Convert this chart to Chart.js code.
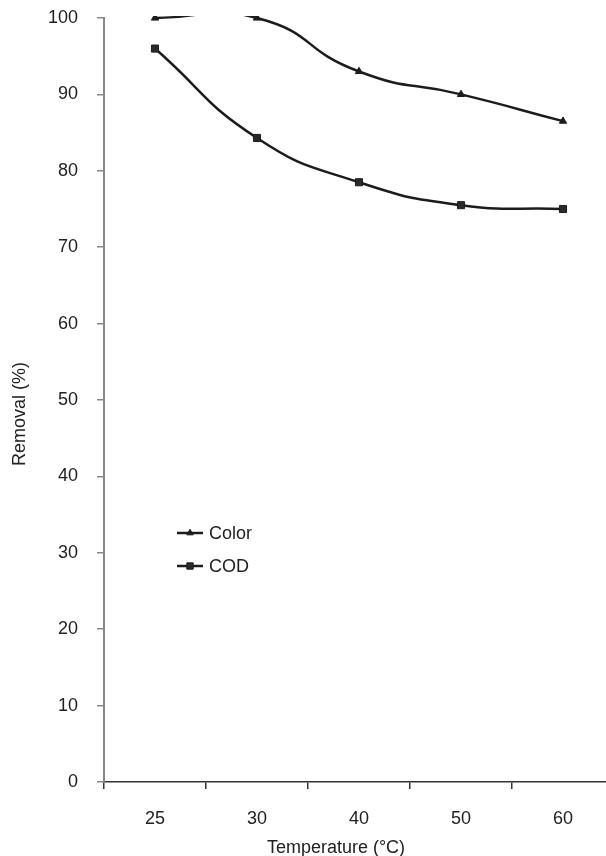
<!DOCTYPE html>
<html>
<head>
<meta charset="utf-8">
<script src="https://cdn.jsdelivr.net/npm/chart.js@4/dist/chart.umd.min.js"></script>
<style>
  html, body { margin: 0; padding: 0; background: #fff; overflow: hidden; }
  #wrap { width: 606px; height: 856px; overflow: hidden; }
  canvas { display: block; }
</style>
</head>
<body>
<div id="wrap"><canvas id="removalChart" width="620" height="856"></canvas></div>
<script>
const temperatures = ["25", "30", "40", "50", "60"];
const colorRemoval = [100, 100, 93, 90, 86.5];
const codRemoval = [96, 84.3, 78.5, 75.5, 75];
const yTicks = [0, 10, 20, 30, 40, 50, 60, 70, 80, 90, 100];

const FONT = "'Liberation Sans', Arial, Helvetica, sans-serif";
const INK = "#222";

// legend box and axis titles drawn straight onto the canvas
const extras = {
    id: "extras",
    afterDraw(chart) {
        const ctx = chart.ctx;
        const area = chart.chartArea;
        ctx.save();
        ctx.fillStyle = INK;
        ctx.font = "18px " + FONT;

        chart.data.datasets.forEach((ds, i) => {
            const y = area.top + 515 + i * 33;
            const x0 = area.left + 73;
            ctx.strokeStyle = ds.borderColor;
            ctx.lineWidth = ds.borderWidth;
            ctx.beginPath();
            ctx.moveTo(x0, y);
            ctx.lineTo(x0 + 26, y);
            ctx.stroke();
            ctx.fillStyle = ds.pointBackgroundColor;
            ctx.strokeStyle = ds.pointBorderColor;
            ctx.lineWidth = 1;
            Chart.helpers.drawPoint(ctx, {
                pointStyle: ds.pointStyle,
                radius: ds.pointRadius - 0.5,
                borderWidth: 1,
                rotation: 0
            }, x0 + 13, y);
            ctx.fillStyle = INK;
            ctx.textAlign = "left";
            ctx.textBaseline = "middle";
            ctx.fillText(ds.label, x0 + 32, y + 1);
        });

        ctx.textAlign = "center";
        ctx.textBaseline = "alphabetic";
        ctx.fillText("Temperature (°C)", 336, 853);

        ctx.translate(25, 414);
        ctx.rotate(-Math.PI / 2);
        ctx.fillText("Removal (%)", 0, 0);
        ctx.restore();
    }
};

new Chart(document.getElementById("removalChart"), {
    type: "line",
    data: {
        labels: temperatures,
        datasets: [{
            label: "Color",
            data: colorRemoval,
            borderColor: "#1c1c1c",
            borderWidth: 2.5,
            tension: 0.55,
            pointStyle: "triangle",
            pointRadius: 4.2,
            pointBackgroundColor: "#1c1c1c",
            pointBorderColor: "#1c1c1c",
            pointBorderWidth: 1,
            clip: { left: 10, right: 10, top: 2, bottom: 10 }
        }, {
            label: "COD",
            data: codRemoval,
            borderColor: "#1c1c1c",
            borderWidth: 2.5,
            tension: 0.5,
            pointStyle: "rect",
            pointRadius: 5,
            pointBackgroundColor: "#2a2a2a",
            pointBorderColor: "#1c1c1c",
            pointBorderWidth: 1,
            clip: { left: 10, right: 10, top: 2, bottom: 10 }
        }]
    },
    options: {
        responsive: false,
        animation: false,
        devicePixelRatio: 1,
        elements: { line: { capBezierPoints: false } },
        layout: { padding: { top: 18, right: 6, bottom: 0, left: 0 } },
        plugins: {
            legend: { display: false },
            tooltip: { enabled: false }
        },
        scales: {
            x: {
                type: "category",
                offset: true,
                grid: {
                    offset: true,
                    drawOnChartArea: false,
                    tickLength: 7,
                    color: "#333",
                    lineWidth: 1.5
                },
                border: { color: "#333", width: 1.5 },
                ticks: {
                    padding: 19,
                    color: INK,
                    font: { family: FONT, size: 18 }
                },
                afterFit(scale) { scale.height = 74; }
            },
            y: {
                min: 0,
                max: 100,
                afterBuildTicks(scale) {
                    scale.ticks = yTicks.map(v => ({ value: v }));
                },
                grid: {
                    drawOnChartArea: false,
                    tickLength: 7,
                    color: "#888",
                    lineWidth: 1.5
                },
                border: { color: "#888", width: 2 },
                ticks: {
                    padding: 19,
                    color: INK,
                    font: { family: FONT, size: 18 }
                },
                afterFit(scale) {
                    scale.width = 104;
                    scale.paddingTop = 0;
                    scale.paddingBottom = 0;
                }
            }
        }
    },
    plugins: [extras]
});
</script>
</body>
</html>
